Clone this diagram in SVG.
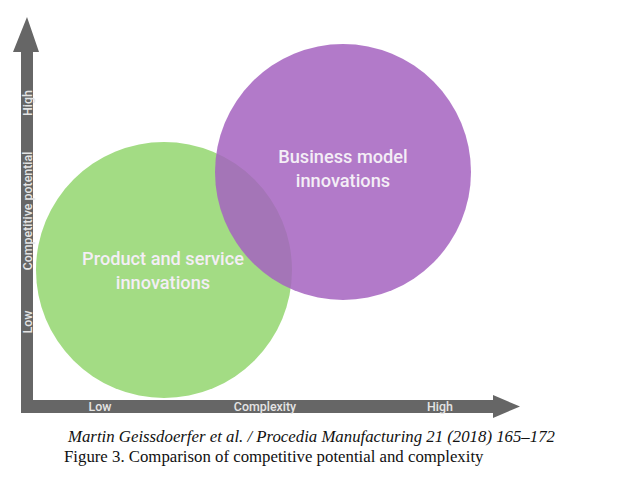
<svg xmlns="http://www.w3.org/2000/svg" width="617" height="480" viewBox="0 0 617 480">
<style>
.ax{fill:#666666}
.axl{font-family:"Roboto","Liberation Sans",sans-serif;font-size:12.4px;font-weight:500;fill:#e4e4e4;text-anchor:middle}
.lbl{font-family:"Roboto","Liberation Sans",sans-serif;font-size:18.2px;font-weight:500;fill:#f4eef6;text-anchor:middle}
.cap{font-family:"Liberation Serif",serif;font-size:16.8px;fill:#111}
</style>
<rect width="617" height="480" fill="#ffffff"/>
<g id="connectors">
<path class="ax" d="M21,52 H13 L27,17 L39,52 H33 V400 H493 V395 L520,406.5 L493,418 V413 H21 Z"/>
</g>
<g id="product">
<circle cx="164" cy="270" r="128" fill="#a3dc84"/>
</g>
<g id="business">
<circle cx="343" cy="172" r="128" fill="#a463c0" fill-opacity="0.85"/>
</g>
<g id="labels">
<text class="lbl" x="343" y="163">Business model</text>
<text class="lbl" x="343" y="187">innovations</text>
<text class="lbl" x="163" y="265">Product and service</text>
<text class="lbl" x="163" y="289">innovations</text>
<text class="axl" transform="translate(31.5,103) rotate(-90)">High</text>
<text class="axl" transform="translate(31.5,211) rotate(-90)">Competitive potential</text>
<text class="axl" transform="translate(31.5,322) rotate(-90)">Low</text>
<text class="axl" x="100" y="411">Low</text>
<text class="axl" x="265" y="411">Complexity</text>
<text class="axl" x="440" y="411">High</text>
</g>
<text class="cap" x="68" y="442" font-style="italic">Martin Geissdoerfer et al. / Procedia Manufacturing 21 (2018) 165–172</text>
<text class="cap" x="64" y="462">Figure 3. Comparison of competitive potential and complexity</text>
</svg>
